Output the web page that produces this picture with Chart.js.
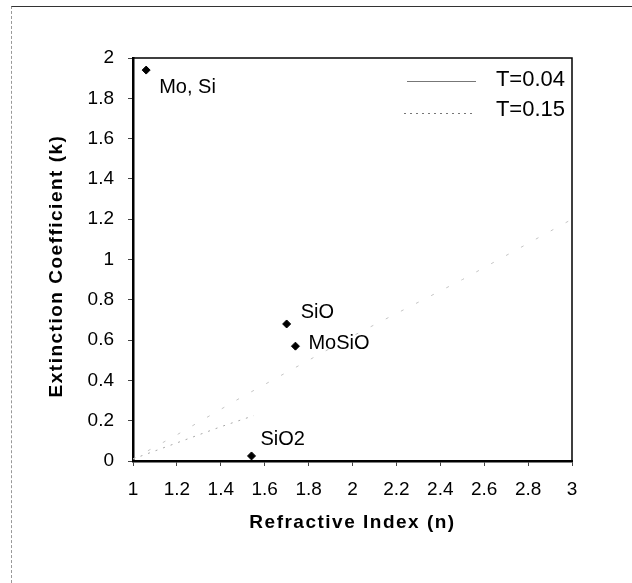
<!DOCTYPE html>
<html>
<head>
<meta charset="utf-8">
<script src="https://cdn.jsdelivr.net/npm/chart.js@4.4.1/dist/chart.umd.min.js"></script>
<style>
  html, body { margin: 0; padding: 0; background: #fff; }
  #wrap { position: relative; width: 632px; height: 583px; }
  #frame {
    position: absolute; left: 11px; top: 6px; right: 0; bottom: 0;
    border-top: 1px solid #333; border-left: 1px dashed #999;
    pointer-events: none;
  }
</style>
</head>
<body>
<div id="wrap">
  <canvas id="nkChart" width="632" height="583"></canvas>
  <div id="frame"></div>
</div>
<script>
// Film materials: refractive index n and extinction coefficient k
const materials = ['Mo, Si', 'SiO', 'MoSiO', 'SiO2'];
const nValues = [1.06, 1.70, 1.74, 1.54];
const kValues = [1.94, 0.68, 0.57, 0.025];

// Constant-transmission curves
const nT004 = [1, 1.2, 1.5, 2, 2.5, 3];
const kT004 = [0.01, 0.13, 0.32, 0.62, 0.90, 1.20];
const nT015 = [1, 1.2, 1.4, 1.55];
const kT015 = [0.01, 0.09, 0.17, 0.225];

// label offsets in px from the marker
const labelOffsets = [[13, 17], [14, -11], [13, -3], [9, -16]];

const FONT = '"Liberation Sans", Arial, sans-serif';

const toXY = (xs, ys) => xs.map((x, i) => ({ x: x, y: ys[i] }));
const tickText = (v) => String(Math.round(v * 10) / 10);

// box, legend, point labels and axis titles
const overlay = {
    id: 'overlay',
    afterDraw(chart) {
        const ctx = chart.ctx;
        const a = chart.chartArea;
        const xs = chart.scales.x, ys = chart.scales.y;
        ctx.save();

        // top and right edges of the plot box
        ctx.strokeStyle = '#000';
        ctx.lineWidth = 1.5;
        ctx.beginPath();
        ctx.moveTo(a.left, a.top);
        ctx.lineTo(a.right, a.top);
        ctx.lineTo(a.right, a.bottom);
        ctx.stroke();

        // legend
        ctx.font = '22px ' + FONT;
        ctx.fillStyle = '#000';
        ctx.textAlign = 'right';
        ctx.textBaseline = 'middle';
        ctx.strokeStyle = '#777';
        ctx.lineWidth = 1;
        ctx.beginPath();
        ctx.moveTo(407, 81.5);
        ctx.lineTo(476, 81.5);
        ctx.stroke();
        ctx.fillText('T=0.04', 565, 80);
        ctx.setLineDash([2, 4]);
        ctx.beginPath();
        ctx.moveTo(404, 113.5);
        ctx.lineTo(476, 113.5);
        ctx.stroke();
        ctx.setLineDash([]);
        ctx.fillText('T=0.15', 565, 110);

        // material labels
        ctx.font = '20px ' + FONT;
        ctx.textAlign = 'left';
        materials.forEach((name, i) => {
            const px = xs.getPixelForValue(nValues[i]) + labelOffsets[i][0];
            const py = ys.getPixelForValue(kValues[i]) + labelOffsets[i][1];
            ctx.fillText(name, px, py);
        });

        // axis titles
        ctx.font = 'bold 19px ' + FONT;
        ctx.letterSpacing = '1.5px';
        ctx.textAlign = 'center';
        ctx.fillText('Refractive Index (n)', (a.left + a.right) / 2, 523);
        ctx.translate(57, 266);
        ctx.rotate(-Math.PI / 2);
        ctx.fillText('Extinction Coefficient (k)', 0, 0);
        ctx.restore();
    }
};

window.onload = function() {
    new Chart(document.getElementById('nkChart'), {
        type: 'scatter',
        data: {
            datasets: [
                {
                    label: 'Materials',
                    data: toXY(nValues, kValues),
                    pointStyle: 'rectRot',
                    pointRadius: 4,
                    backgroundColor: '#000',
                    borderColor: '#000',
                    borderWidth: 1
                },
                {
                    label: 'T=0.04',
                    data: toXY(nT004, kT004),
                    showLine: true,
                    pointRadius: 0,
                    borderColor: '#c4c4c4',
                    borderWidth: 1,
                    borderDash: [3, 14]
                },
                {
                    label: 'T=0.15',
                    data: toXY(nT015, kT015),
                    showLine: true,
                    pointRadius: 0,
                    borderColor: '#a8a8a8',
                    borderWidth: 1,
                    borderDash: [2, 6]
                }
            ]
        },
        options: {
            responsive: false,
            animation: false,
            events: [],
            layout: { padding: { left: 20, top: 58, right: 60, bottom: 20 } },
            plugins: {
                legend: { display: false },
                tooltip: { enabled: false }
            },
            scales: {
                x: {
                    type: 'linear',
                    min: 1,
                    max: 3,
                    afterFit: (s) => { s.height = 102; },
                    grid: { drawOnChartArea: false, drawTicks: true, tickLength: 5, tickColor: '#444' },
                    border: { color: '#000', width: 2.5 },
                    ticks: {
                        stepSize: 0.2,
                        autoSkip: false,
                        maxRotation: 0,
                        padding: 12,
                        color: '#000',
                        font: { family: FONT, size: 19 },
                        callback: tickText
                    }
                },
                y: {
                    type: 'linear',
                    min: 0,
                    max: 2,
                    afterFit: (s) => { s.width = 113; },
                    grid: { drawOnChartArea: false, drawTicks: true, tickLength: 5, tickColor: '#444' },
                    border: { color: '#000', width: 2.5 },
                    ticks: {
                        stepSize: 0.2,
                        autoSkip: false,
                        padding: 14,
                        color: '#000',
                        font: { family: FONT, size: 19 },
                        callback: tickText
                    }
                }
            }
        },
        plugins: [overlay]
    });
};
</script>
</body>
</html>
